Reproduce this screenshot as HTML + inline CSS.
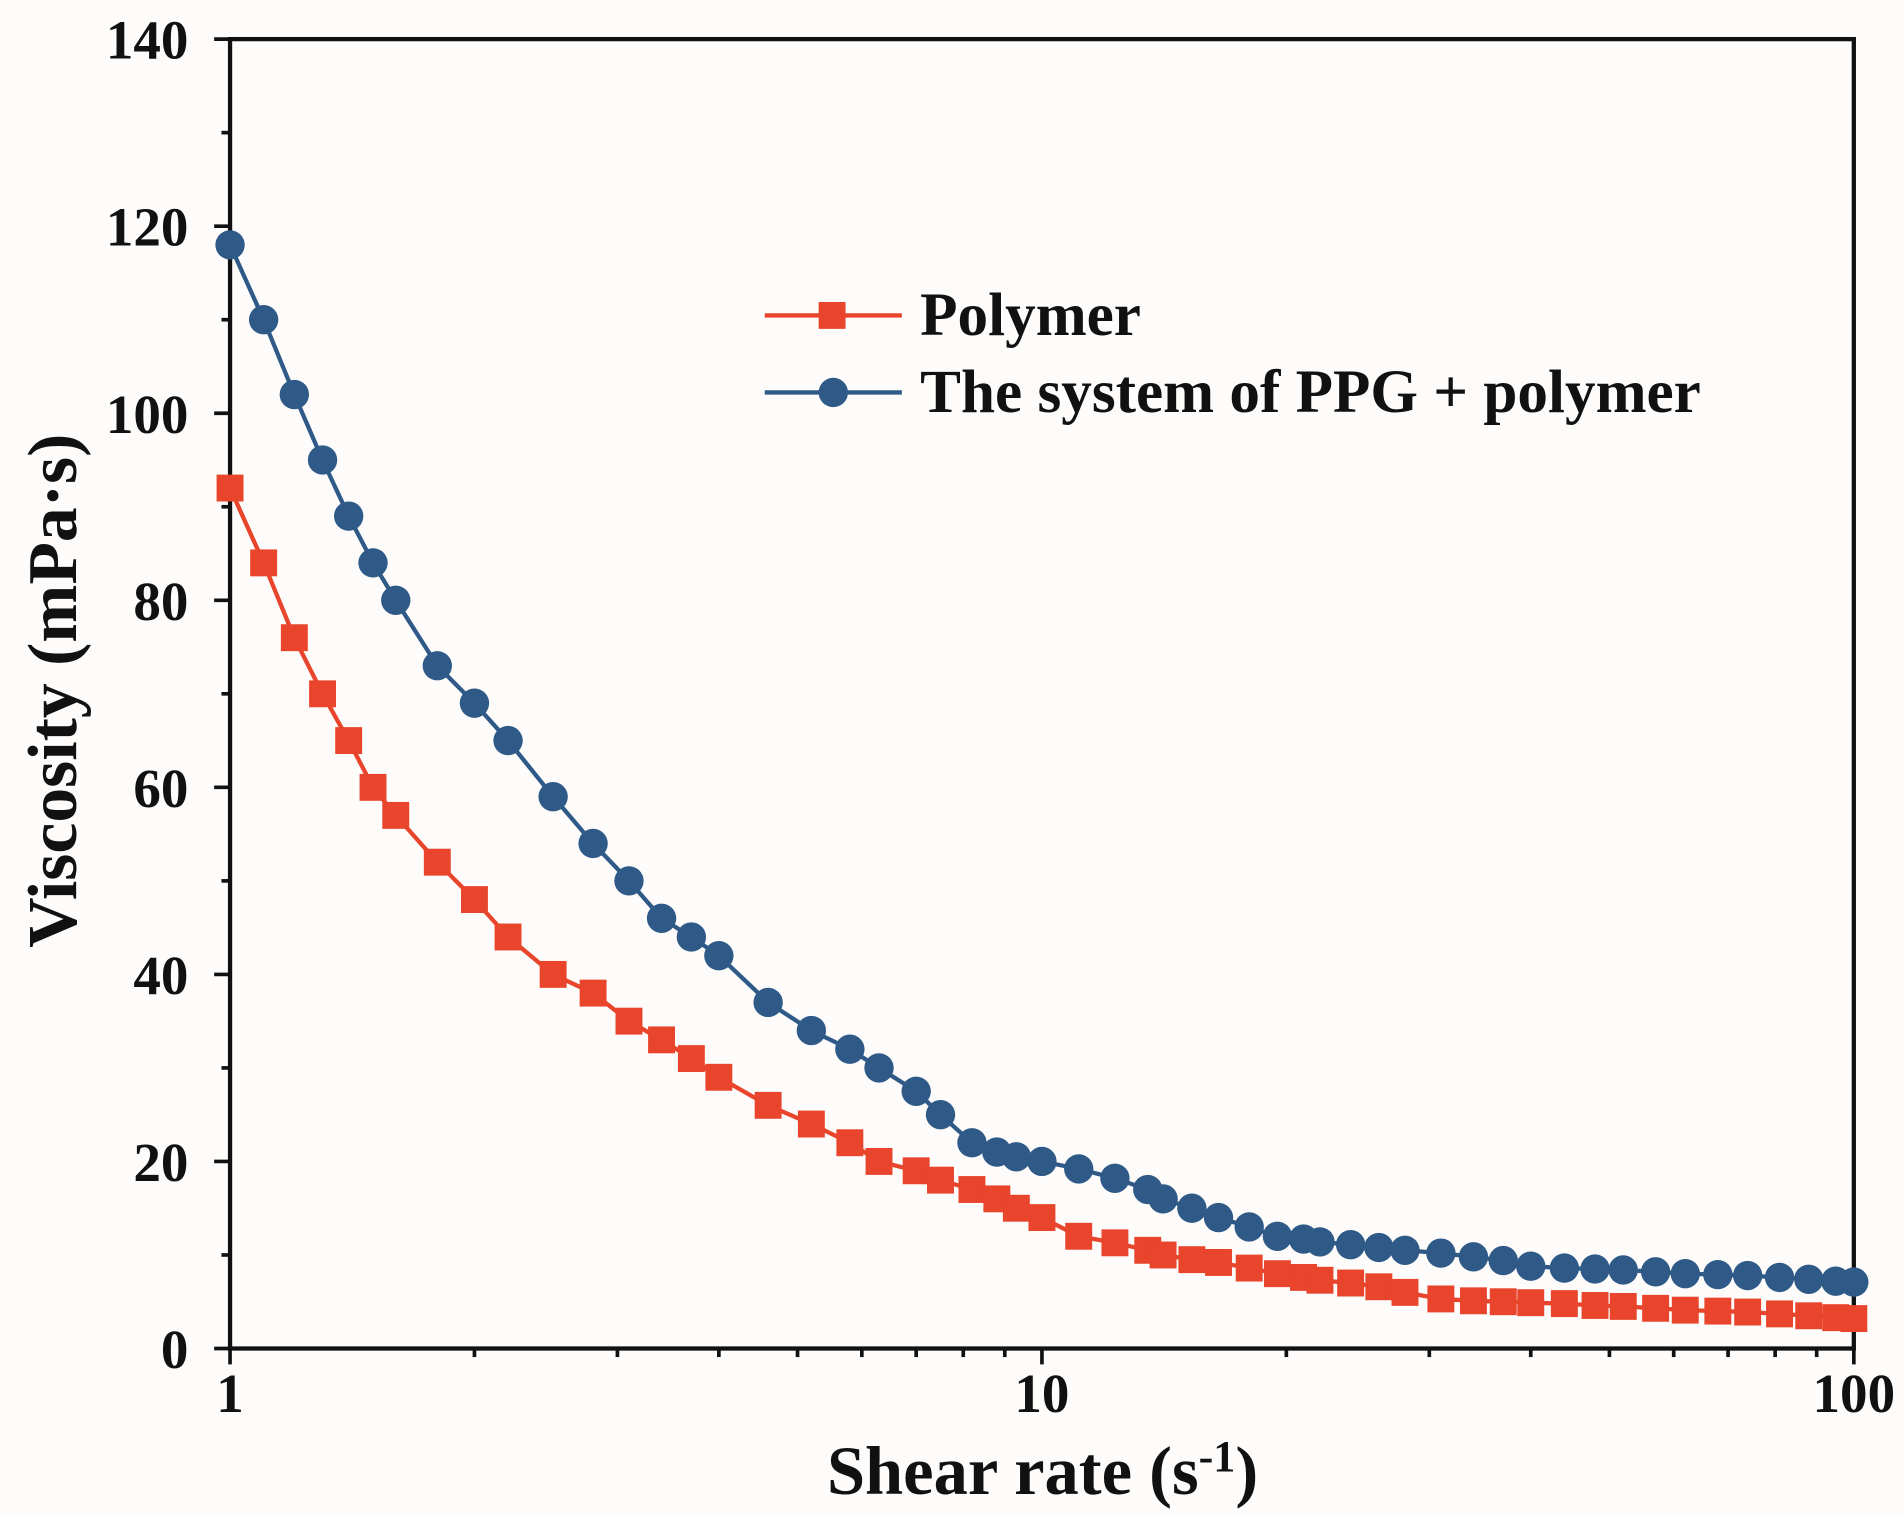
<!DOCTYPE html>
<html><head><meta charset="utf-8"><style>
html,body{margin:0;padding:0;background:#fdfcfb;}
svg{display:block;}
text{font-family:"Liberation Serif",serif;font-weight:bold;fill:#111;}
</style></head><body>
<svg id="chart" width="1904" height="1516" viewBox="0 0 1556 1240" preserveAspectRatio="none" xmlns="http://www.w3.org/2000/svg">
<rect x="0" y="0" width="1556" height="1240" fill="#fdfcfb"/>
<g id="axes"></g>
<g id="series"></g>
<g>
 <line x1="625" y1="258" x2="737" y2="258" stroke="#e8452c" stroke-width="3.5"/>
 <rect x="669" y="247" width="22" height="22" fill="#e8452c"/>
 <text x="752" y="274" font-size="50">Polymer</text>
 <line x1="625" y1="321" x2="737" y2="321" stroke="#2f5a87" stroke-width="3.5"/>
 <circle cx="681" cy="321" r="12" fill="#2f5a87"/>
 <text x="752" y="337" font-size="50">The system of PPG + polymer</text>
</g>
<text x="852" y="1222" font-size="56" text-anchor="middle">Shear rate (s<tspan dy="-19" font-size="36">-1</tspan><tspan dy="19">)</tspan></text>
<text transform="translate(62,565) rotate(-90)" font-size="57" text-anchor="middle">Viscosity (mPa·s)</text>
</svg>
<script>
const xValues=[1,1.1,1.2,1.3,1.4,1.5,1.6,1.8,2,2.2,2.5,2.8,3.1,3.4,3.7,4,4.6,5.2,5.8,6.3,7,7.5,8.2,8.8,9.3,10,11.1,12.3,13.5,14.1,15.3,16.5,18,19.5,21,22,24,26,28,31,34,37,40,44,48,52,57,62,68,74,81,88,95,100];
const polymerValues=[92,84,76,70,65,60,57,52,48,44,40,38,35,33,31,29,26,24,22,20,19,18,17,16,15,14,12,11.3,10.5,10,9.5,9.2,8.6,8,7.6,7.3,7,6.6,6,5.3,5.1,5,4.9,4.8,4.6,4.5,4.3,4.1,4,3.9,3.7,3.5,3.3,3.2];
const ppgValues=[118,110,102,95,89,84,80,73,69,65,59,54,50,46,44,42,37,34,32,30,27.5,25,22,21,20.5,20,19.2,18.2,17,16,15,14,13,12,11.7,11.4,11.1,10.8,10.5,10.2,9.8,9.4,8.8,8.6,8.5,8.4,8.2,8,7.9,7.8,7.6,7.4,7.2,7.1];
const yTicks=[0,20,40,60,80,100,120,140];
const xTickLabels=[1,10,100];
const L=188,R=1515,T=32,B=1103;
const sx=v=>L+(R-L)/2*Math.log10(v);
const sy=v=>B-(B-T)*v/140;
const NS="http://www.w3.org/2000/svg";
function mk(tag,attrs,parent){const e=document.createElementNS(NS,tag);for(const k in attrs)e.setAttribute(k,attrs[k]);parent.appendChild(e);return e;}
const ax=document.getElementById('axes');
const frame=mk('rect',{x:L,y:T,width:R-L,height:B-T,fill:'none',stroke:'#111','stroke-width':3.5},ax);


for(let v=0;v<=140;v+=10){const major=v%20===0;mk('line',{x1:major?175:181,x2:L,y1:sy(v),y2:sy(v),stroke:'#111','stroke-width':3},ax);}
yTicks.forEach(v=>{const t=mk('text',{x:154,y:sy(v)+16,'font-size':45,'text-anchor':'end'},ax);t.textContent=v;

});
for(let d=1;d<=10;d*=10){for(let m=1;m<10;m++){const v=d*m;if(v>100)break;mk('line',{x1:sx(v),x2:sx(v),y1:B,y2:m===1?B+13:B+7,stroke:'#111','stroke-width':3},ax);}}
mk('line',{x1:sx(100),x2:sx(100),y1:B,y2:B+13,stroke:'#111','stroke-width':3},ax);
xTickLabels.forEach(v=>{const t=mk('text',{x:sx(v),y:B+52,'font-size':45,'text-anchor':'middle'},ax);t.textContent=v;

});
const sg=document.getElementById('series');
function draw(vals,color,shape,name){
 const g=mk('g',{},sg);
 
 
 mk('polyline',{points:xValues.map((x,i)=>sx(x)+','+sy(vals[i])).join(' '),fill:'none',stroke:color,'stroke-width':3.5},g);
 xValues.forEach((x,i)=>{let m;
  if(shape==='sq')m=mk('rect',{x:sx(x)-11,y:sy(vals[i])-11,width:22,height:22,fill:color},g);
  else m=mk('circle',{cx:sx(x),cy:sy(vals[i]),r:12,fill:color},g);
  
  });
}
draw(polymerValues,'#e8452c','sq','polymer-series');
draw(ppgValues,'#2f5a87','ci','ppg-polymer-series');
</script>
</body></html>
